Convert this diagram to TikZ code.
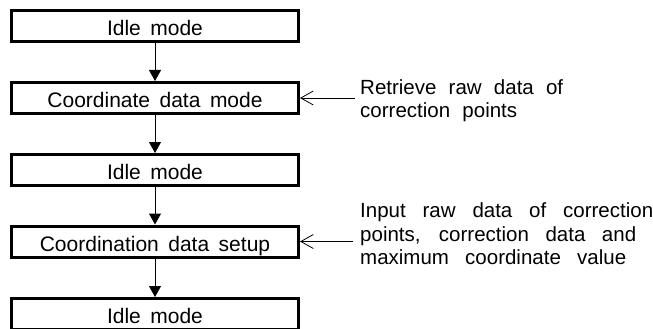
\documentclass[tikz,border=0pt]{standalone}
\usepackage{fontspec}
\setmainfont{Liberation Sans}[WordSpace=1.63]
\usetikzlibrary{arrows.meta}
\begin{document}
\begin{tikzpicture}[x=1pt,y=-1pt,
  modebox/.style={draw=black,line width=3pt,minimum width=287pt,minimum height=31pt,
    inner sep=0pt,text height=19.6pt,text depth=0pt,font=\fontsize{21}{23.5}\selectfont},
  flow/.style={line width=1pt,-{Triangle[length=11pt,width=12pt]}},
  sidearrow/.style={line width=0.8pt,-{Straight Barb[length=12.5pt,width=14pt]}},
  note/.style={inner sep=0pt,align=left,font=\fontsize{20.5}{23.5}\selectfont}]
\useasboundingbox (0,0) rectangle (653,329);
\fill[white] (0,0) rectangle (653,329);
\node[modebox] (b1) at (155,26) {Idle mode};
\node[modebox] (b2) at (155,98) {Coordinate data mode};
\node[modebox] (b3) at (155,170) {Idle mode};
\node[modebox] (b4) at (155,241.5) {Coordination data setup};
\node[modebox] (b5) at (155,314) {Idle mode};
\draw[flow] (b1) -- (b2);
\draw[flow] (b2) -- (b3);
\draw[flow] (b3) -- (b4);
\draw[flow] (b4) -- (b5);
\node[note,anchor=north west] (t1) at (360,79) {\makebox[203pt][s]{Retrieve raw data of}\\\makebox[157pt][s]{correction points}};
\node[note,anchor=north west] (t2) at (360,202.8) {\makebox[293pt][s]{Input raw data of correction}\\\makebox[276pt][s]{points, correction data and}\\\makebox[266pt][s]{maximum coordinate value}};
\coordinate (s1) at (355,98);
\coordinate (s2) at (353,241.5);
\draw[sidearrow] (s1) -- (b2.east);
\draw[sidearrow] (s2) -- (b4.east);
\end{tikzpicture}
\end{document}
